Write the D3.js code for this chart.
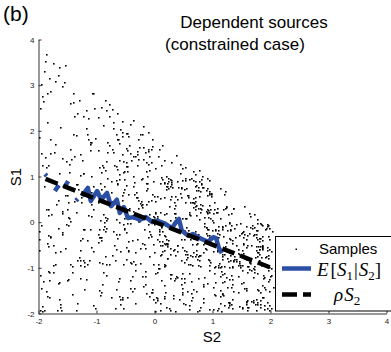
<!DOCTYPE html>
<html>
<head>
<meta charset="utf-8">
<script src="https://cdn.jsdelivr.net/npm/d3@7"></script>
<style>
  body { margin: 0; background: #fff; }
  svg { display: block; font-family: "Liberation Sans", Arial, sans-serif; }
</style>
</head>
<body>
<svg id="chart" width="391" height="352"></svg>
<script>
const tickValues = [-2, -1, 0, 1, 2, 3, 4];
const rho = -0.5;
const rhoLineS2 = [-1.87, 2.6];

// E[S1|S2], null = gap
const condS2 = [-1.88, -1.85, null, -1.71, -1.64, null, -1.55, -1.48, null, -1.345, -1.315, null,
  -1.24, -1.14, -1.09, -0.98, -0.91, -0.81, -0.74, -0.64, -0.59, -0.52, -0.45, -0.35, -0.24, -0.14,
  -0.03, 0.05, 0.17, 0.31, 0.38, 0.43, 0.48, 0.59, 0.67, 0.79, 0.93, 1.02, 1.07, 1.12, 1.17];
const condS1 = [1.04, 1.00, null, 0.67, 0.80, null, 0.74, 0.89, null, 0.46, 0.50, null,
  0.56, 0.74, 0.45, 0.67, 0.48, 0.63, 0.34, 0.48, 0.19, 0.32, 0.08, 0.10, 0.04, 0.10,
  -0.01, 0.02, -0.03, -0.14, -0.01, 0.06, -0.20, -0.31, -0.27, -0.36, -0.44, -0.34, -0.36, -0.58, -0.69];

// samples [S2, S1]
const samples = [
[-1.14,0.15],[-1.41,-1.59],[-1.15,1.92],[-1.59,-0.26],[-1.92,2.65],[-1.26,0.53],[-1.65,-1.35],[-1.53,-0.58],[-1.35,1.89],[-1.58,2.97],
[-1.89,0.79],[-1.97,-1.93],[-1.79,-0.32],[-1.93,1.23],[-1.32,2.38],[-1.23,-0.84],[-1.38,0.46],[-1.84,-1.62],[-1.46,1.26],[-1.62,-0.64],
[-1.26,0.43],[-1.64,-1.33],[-1.43,1.38],[-1.33,-0.83],[-1.38,2.32],[-1.83,0.27],[-1.32,-1.79],[-1.27,-0.95],[-1.79,1.50],[-1.95,3.02],
[-1.50,0.28],[-1.02,-1.88],[-1.28,-0.84],[-1.88,1.41],[-1.84,2.19],[-1.41,-0.97],[-1.19,0.71],[-1.97,-1.16],[-1.71,1.69],[-1.16,-0.93],
[-1.69,0.39],[-1.93,-1.95],[-1.39,1.93],[-1.99,-0.37],[-1.93,2.75],[-1.37,0.51],[-1.75,-1.10],[-1.51,-0.05],[-1.10,1.58],[-1.05,2.82],
[-1.58,0.20],[-1.82,-1.09],[-1.20,-0.97],[-1.09,1.74],[-1.97,2.49],[-1.74,-0.94],[-1.49,0.44],[-1.94,-1.45],[-1.44,1.59],[-1.45,-0.92],
[-1.59,0.23],[-1.92,-1.30],[-1.23,1.07],[-1.30,-0.78],[-1.07,2.81],[-1.78,0.16],[-1.81,-1.64],[-1.16,-0.40],[-1.64,1.06],[-1.40,2.62],
[-1.06,0.28],[-1.62,-1.86],[-1.28,-0.62],[-1.86,1.20],[-1.62,2.08],[-1.20,-0.89],[-1.08,0.99],[-1.89,-1.94],[-1.99,1.86],[-1.98,-0.62],
[-1.86,0.28],[-1.62,-1.80],[-1.28,1.03],[-1.80,-0.34],[-1.03,2.48],[-1.34,0.82],[-1.48,-1.25],[-1.82,-0.53],[-1.25,1.34],[-1.53,3.42],
[-1.34,0.21],[-1.42,-1.11],[-1.21,-0.17],[-1.11,1.70],[-1.17,2.06],[-1.70,-0.67],[-1.06,0.79],[-1.67,-1.94],[-1.79,1.82],[-1.98,-0.21],
[-1.82,0.14],[-1.21,-1.48],[-1.14,1.80],[-1.48,-0.08],[-1.80,2.86],[-1.08,0.65],[-1.86,-1.51],[-1.65,-0.13],[-1.51,1.32],[-1.13,2.28],
[-1.32,0.82],[-1.28,-1.23],[-1.82,-0.30],[-1.23,1.06],[-1.30,2.66],[-1.06,-0.64],[-1.66,0.47],[-1.64,-1.70],[-1.47,1.09],[-1.70,-0.93],
[-1.09,0.38],[-1.93,-1.84],[-1.38,1.44],[-1.84,-0.46],[-1.44,2.60],[-1.46,0.09],[-1.60,-1.93],[-1.09,-0.55],[-1.95,1.50],[-1.55,3.05],
[-1.50,0.58],[-1.05,-1.82],[-1.58,-0.22],[-1.82,1.23],[-1.22,2.31],[-1.23,-0.17],[-1.31,0.72],[-1.17,-1.25],[-1.72,1.53],[-1.25,-0.35],
[-1.53,0.59],[-1.35,-1.94],[-1.59,1.40],[-1.94,-0.08],[-1.40,2.81],[-1.08,0.12],[-1.81,-1.28],[-1.12,-0.84],[-1.28,1.48],[-1.84,2.81],
[-1.48,0.11],[-1.81,-1.11],[-1.11,-0.17],[-1.11,1.74],[-1.17,2.45],[-1.74,-0.50],[-1.45,0.02],[-1.50,-1.28],[-1.02,1.84],[-1.28,-0.41],
[-1.86,3.68],[-1.74,3.47],[-1.90,3.31],[-1.66,3.22],[-1.81,3.14],[-1.63,3.38],[-1.88,3.52],[-1.71,3.09],
[-0.84,0.10],[-0.41,-0.02],[-0.10,1.27],[-0.02,-1.70],[-0.27,0.01],[-0.70,2.19],[-0.01,-0.93],[-0.19,1.38],[-0.93,0.85],[-0.38,-1.52],
[-0.85,-0.21],[-0.52,1.11],[-0.21,0.10],[-0.11,-0.05],[-0.10,1.55],[-0.05,-1.55],[-0.55,0.59],[-0.55,1.96],[-0.59,-0.64],[-0.96,0.44],
[-0.64,0.46],[-0.44,-0.62],[-0.46,1.22],[-0.62,-1.29],[-0.22,0.94],[-0.29,1.48],[-0.94,-0.89],[-0.48,1.95],[-0.89,0.54],[-0.95,-1.49],
[-0.54,-0.93],[-0.49,1.30],[-0.93,0.03],[-0.30,-0.38],[-0.03,1.81],[-0.38,-1.19],[-0.81,0.96],[-0.19,1.64],[-0.96,-0.44],[-0.64,0.42],
[-0.44,0.28],[-0.42,-0.88],[-0.28,1.81],[-0.88,-1.10],[-0.81,0.09],[-0.10,1.97],[-0.09,-0.75],[-0.97,1.56],[-0.75,0.66],[-0.56,-1.65],
[-0.66,-0.59],[-0.65,1.93],[-0.59,0.33],[-0.93,-0.34],[-0.33,1.44],[-0.34,-1.46],[-0.44,0.61],[-0.46,1.12],[-0.61,-0.28],[-0.12,0.84],
[-0.28,0.47],[-0.84,-0.75],[-0.47,1.56],[-0.75,-1.64],[-0.56,0.48],[-0.64,1.82],[-0.48,-0.23],[-0.82,1.33],[-0.23,0.37],[-0.33,-1.78],
[-0.37,-0.86],[-0.78,1.67],[-0.86,0.78],[-0.67,-0.83],[-0.78,2.31],[-0.83,-1.16],[-0.31,0.65],[-0.16,1.52],[-0.65,-0.27],[-0.52,0.71],
[-0.27,0.12],[-0.71,-0.20],[-0.12,1.01],[-0.20,-1.19],[-0.01,0.90],[-0.19,2.09],[-0.90,-0.91],[-0.09,1.14],[-0.91,0.45],[-0.14,-1.56],
[-0.45,-0.64],[-0.56,1.48],[-0.64,0.85],[-0.48,-0.56],[-0.85,2.66],[-0.56,-1.69],[-0.66,0.92],[-0.69,1.23],[-0.92,-0.34],[-0.23,0.46],
[-0.34,0.60],[-0.46,-0.03],[-0.60,1.34],[-0.03,-1.48],[-0.34,0.86],[-0.48,1.61],[-0.86,-0.10],[-0.61,1.04],[-0.10,0.45],[-0.04,-1.54],
[-0.45,-0.43],[-0.54,1.32],[-0.43,0.26],[-0.32,-0.66],[-0.26,1.64],[-0.66,-1.48],[-0.64,0.82],[-0.48,1.21],[-0.82,-0.13],[-0.21,0.33],
[-0.13,0.39],[-0.33,-0.93],[-0.39,1.36],[-0.93,-1.60],[-0.36,0.07],[-0.60,1.72],[-0.07,-0.26],[-0.72,1.60],[-0.26,0.02],[-0.60,-1.24],
[-0.02,-0.49],[-0.24,1.91],[-0.49,0.14],[-0.91,-0.41],[-0.14,1.12],[-0.41,-1.27],[-0.12,0.73],[-0.27,1.37],[-0.73,-0.72],[-0.37,0.24],
[-0.72,0.45],[-0.24,-0.58],[-0.45,1.87],[-0.58,-1.70],[-0.87,0.00],[-0.70,2.06],[0.00,-0.66],[-0.06,1.60],[-0.66,0.06],[-0.60,-1.63],
[-0.06,-0.31],[-0.63,1.15],[-0.31,0.55],[-0.15,-0.58],[-0.55,1.88],[-0.58,-1.81],[-0.88,0.17],[-0.81,1.74],[-0.17,-0.48],[-0.74,0.88],
[-0.48,0.81],[-0.88,-0.15],[-0.81,1.52],[-0.15,-1.20],[-0.52,0.09],[-0.20,1.92],[-0.09,-0.20],[-0.92,1.09],[-0.20,0.96],[-0.09,-1.62],
[-0.96,-0.28],[-0.62,1.82],[-0.28,0.29],[-0.82,-0.92],[-0.29,1.25],[-0.92,-1.54],[-0.25,0.40],[-0.54,1.09],[-0.40,-0.91],[-0.09,0.17],
[-0.91,0.71],[-0.17,-0.15],[-0.71,1.53],[-0.15,-1.36],[-0.53,0.64],[-0.36,1.43],[-0.64,-0.36],[-0.43,1.67],[-0.36,0.78],[-0.67,-1.89],
[-0.78,-0.92],[-0.89,1.25],[-0.92,0.59],[-0.25,-0.90],[-0.59,2.03],[-0.90,-1.36],[-0.03,0.60],[-0.36,1.00],[-0.60,-0.01],[0.00,0.11],
[-0.01,0.13],[-0.11,-0.33],[-0.13,1.30],[-0.33,-1.05],[-0.30,0.53],[-0.05,1.30],[-0.53,-0.05],[-0.30,1.54],[-0.05,0.48],[-0.54,-1.88],
[-0.48,-0.82],[-0.88,1.20],[-0.82,0.04],[-0.20,-0.46],[-0.04,1.66],[-0.46,-1.65],[-0.66,0.52],[-0.65,1.21],[-0.52,-0.13],[-0.21,0.38],
[-0.13,0.84],[-0.38,-0.41],[-0.84,1.14],[-0.41,-1.46],[-0.14,0.69],[-0.46,1.95],[-0.69,-0.51],[-0.95,1.19],[-0.51,0.94],[-0.19,-1.41],
[-0.94,-0.15],[-0.41,1.51],[-0.15,0.11],[-0.51,-0.16],[-0.11,1.60],[-0.16,-1.09],[-0.60,0.94],[-0.09,1.43],[-0.94,-0.33],[-0.43,0.30],
[-0.91,2.52],[-0.83,2.44],[-0.96,2.29],[-0.72,2.47],[-0.64,2.38],[-0.55,2.21],[-0.42,2.14],[-0.37,2.23],[-0.88,2.12],[-0.77,2.58],
[0.33,-0.05],[0.30,0.57],[0.05,-1.72],[0.57,-0.27],[0.72,0.70],[0.27,0.03],[0.70,-0.36],[0.03,-1.65],[0.36,0.57],[0.65,-0.75],
[0.57,0.59],[0.75,-0.95],[0.59,0.59],[0.95,-1.91],[0.59,-0.19],[0.91,0.95],[0.19,-1.53],[0.95,-0.30],[0.53,0.09],[0.30,0.92],
[0.09,-0.21],[0.92,0.18],[0.21,-1.86],[0.18,-0.61],[0.86,0.11],[0.61,0.17],[0.11,-0.73],[0.17,-1.38],[0.73,0.81],[0.38,-0.19],
[0.81,0.93],[0.19,-0.32],[0.93,0.26],[0.32,-1.61],[0.26,-0.11],[0.62,0.15],[0.11,-1.79],[0.17,-0.93],[0.79,0.31],[0.93,0.10],
[0.31,-0.05],[0.10,0.51],[0.05,-1.11],[0.51,-0.18],[0.11,0.85],[0.18,0.54],[0.85,-0.48],[0.54,-1.80],[0.48,0.07],[0.80,-0.74],
[0.07,1.44],[0.74,-0.46],[0.44,0.62],[0.46,-1.23],[0.62,-0.37],[0.23,0.79],[0.37,-1.95],[0.79,-0.96],[0.99,0.62],[0.96,0.27],
[0.62,-0.74],[0.27,0.49],[0.74,-1.95],[0.49,-0.56],[0.95,0.67],[0.56,0.73],[0.67,-0.35],[0.73,-1.51],[0.35,0.18],[0.51,-0.88],
[0.18,0.85],[0.88,-0.57],[0.85,0.75],[0.57,-1.52],[0.75,-0.27],[0.52,0.72],[0.27,-1.24],[0.72,-0.48],[0.24,0.89],[0.48,0.91],
[0.89,-0.12],[0.91,0.22],[0.12,-1.27],[0.22,-0.79],[0.27,0.93],[0.79,0.38],[0.93,-0.81],[0.38,-1.18],[0.81,0.83],[0.18,-0.30],
[0.83,1.01],[0.30,-0.11],[0.01,0.19],[0.11,-1.94],[0.19,-0.49],[0.94,0.91],[0.49,-1.12],[0.91,-0.29],[0.12,0.98],[0.29,0.83],
[0.98,-0.33],[0.83,0.36],[0.33,-1.67],[0.36,-0.73],[0.67,0.33],[0.73,0.36],[0.33,-0.62],[0.36,-1.24],[0.62,0.44],[0.24,-0.40],
[0.44,1.06],[0.40,-0.65],[0.06,0.56],[0.65,-1.66],[0.56,-0.64],[0.66,0.43],[0.64,-1.30],[0.43,-0.08],[0.30,0.86],[0.08,1.60],
[0.86,-0.02],[0.60,0.21],[0.02,-1.13],[0.21,-0.39],[0.13,0.94],[0.39,0.49],[0.94,-0.94],[0.49,-1.46],[0.94,0.63],[0.46,-0.39],
[0.63,0.95],[0.39,-0.52],[0.95,0.22],[0.52,-1.24],[0.22,-0.47],[0.24,0.73],[0.47,-1.37],[0.73,-0.71],[0.37,0.19],[0.71,0.90],
[0.19,-0.07],[0.90,0.70],[0.07,-1.02],[0.70,-0.21],[0.02,1.17],[0.21,0.79],[0.17,-0.98],[0.79,-1.86],[0.98,0.60],[0.86,-0.09],
[0.60,0.94],[0.09,-0.43],[0.94,0.37],[0.43,-1.70],[0.37,-0.02],[0.70,0.27],[0.02,-1.77],[0.27,-0.70],[0.77,0.05],[0.70,0.53],
[0.05,-0.39],[0.53,0.92],[0.39,-1.21],[0.92,-0.17],[0.21,0.71],[0.17,0.17],[0.71,-0.76],[0.17,-1.62],[0.76,0.29],[0.62,-0.93],
[0.29,1.31],[0.93,-0.17],[0.31,0.76],[0.17,-1.67],[0.76,-0.75],[0.67,0.52],[0.75,-1.23],[0.52,-0.38],[0.23,0.84],[0.38,1.46],
[0.84,-0.67],[0.46,0.74],[0.67,-1.48],[0.74,-0.81],[0.48,1.18],[0.81,0.84],[0.18,-0.46],[0.84,-1.67],[0.46,0.76],[0.67,-0.66],
[0.76,0.69],[0.66,-0.94],[0.69,0.40],[0.94,-1.05],[0.40,-0.51],[0.05,0.13],[0.51,-1.32],[0.13,-0.20],[0.32,0.00],[0.20,1.00],
[0.00,-0.05],[0.00,0.56],[0.05,-1.68],[0.56,-0.81],[0.68,1.12],[0.81,0.27],[0.12,-0.71],[0.27,-1.14],[0.71,0.45],[0.14,-0.52],
[0.45,1.26],[0.52,-0.63],[0.26,0.35],[0.63,-1.56],[0.35,-0.60],[0.56,0.08],[0.60,-1.82],[0.08,-0.27],[0.82,0.77],[0.27,0.78],
[0.77,-0.85],[0.78,0.57],[0.85,-1.77],[0.57,-0.71],[0.77,1.13],[0.71,0.34],[0.13,-0.42],[0.34,-1.27],[0.42,0.75],[0.27,-0.57],
[0.75,0.77],[0.57,-0.78],[0.77,0.89],[0.78,-1.93],[0.89,-0.60],[0.96,0.09],[0.60,-1.91],[0.09,-0.17],[0.91,0.73],[0.17,1.36],
[0.73,-0.63],[0.36,0.37],[0.63,-1.71],[0.37,-0.17],[0.71,0.78],[0.17,0.87],[0.78,-0.72],[0.87,-1.21],[0.72,0.14],[0.21,-0.46],
[0.14,1.68],[0.46,-0.84],[0.68,0.44],[0.84,-1.40],[0.44,-0.09],[0.40,0.90],[0.09,-1.01],[0.90,-0.12],[0.01,0.22],[0.12,1.24],
[0.22,-0.49],[0.24,0.95],[0.49,-1.53],[0.95,-0.34],[0.53,0.43],[0.34,0.30],[0.43,-0.01],[0.30,-1.14],[0.01,0.46],[0.14,-0.65],
[0.46,0.54],[0.65,-0.49],[0.54,0.95],[0.49,-1.58],[0.95,-0.85],[0.58,0.53],[0.85,-1.37],[0.53,-0.71],[0.37,0.10],[0.71,1.05],
[0.10,-0.50],[0.05,0.07],[0.50,-1.79],[0.07,-0.92],[0.79,0.22],[0.92,0.27],[0.22,-0.79],[0.27,-1.94],[0.79,0.68],[0.96,-0.89],
[0.68,0.92],[0.89,-0.25],[0.92,0.58],[0.25,-1.89],[0.58,-0.92],[0.89,0.23],[0.92,-1.35],[0.23,-0.54],[0.35,0.42],[0.54,1.20],
[0.42,-0.01],[0.20,0.19],[0.01,-1.95],[0.19,-0.95],[0.99,0.56],[0.95,0.61],[0.56,-0.11],[0.61,-1.12],[0.11,0.21],[0.12,-0.12],
[1.21,-1.29],[1.12,-0.90],[1.29,-0.02],[1.90,-1.21],[1.02,0.19],[1.21,-0.96],[1.19,-1.60],[1.96,-0.08],[1.60,-1.86],[1.08,-0.64],
[1.86,-0.40],[1.64,-1.03],[1.40,-0.34],[1.03,0.44],[1.34,-0.41],[1.44,-1.18],[1.41,-0.81],[1.18,-1.15],[1.81,-0.59],[1.15,-0.98],
[1.59,-1.81],[1.98,-0.13],[1.81,-0.36],[1.13,-1.62],[1.36,0.29],[1.62,-0.97],[1.29,-1.77],[1.97,-0.74],[1.77,-1.47],[1.74,-0.77],
[1.47,-0.71],[1.77,-1.13],[1.71,-0.30],[1.13,0.09],[1.30,-0.99],[1.09,-1.94],[1.99,-0.60],[1.96,-1.05],[1.60,-0.51],[1.05,-0.18],
[1.51,-1.87],[1.18,-0.70],[1.87,-0.07],[1.70,-1.72],[1.07,0.21],[1.72,-0.11],[1.21,-1.13],[1.11,-0.34],[1.13,-1.49],[1.34,-0.99],
[1.49,-0.99],[1.99,-1.93],[1.99,-0.99],[1.99,-1.83],[1.98,-0.37],[1.83,-1.72],[1.37,0.29],[1.72,-0.97],
[1.29,-1.78],[1.97,-0.80],[1.78,-0.04],[1.80,-1.49],[1.04,-0.99],[1.49,-0.95],[1.99,-1.51],[1.95,-0.10],[1.51,-1.05],[1.10,-0.59],
[1.05,-0.97],[1.59,-1.73],[1.97,-0.31],[1.73,0.17],[1.31,-0.73],[1.17,-1.32],[1.73,-0.28],[1.32,-1.81],[1.28,0.16],[1.81,-0.60],
[1.16,-1.09],[1.60,-0.96],[1.09,-0.63],[1.96,-1.31],[1.63,0.18],[1.31,-0.85],[1.18,-1.59],[1.85,-0.95],[1.59,-1.50],[1.95,-0.06],
[1.50,-0.24],[1.02,-1.44],[1.24,-0.45],[1.44,-0.59],[1.45,-0.94],[1.59,-1.45],[1.94,-0.55],[1.45,-1.53],[1.55,0.34],[1.53,-0.46],
[1.34,-1.69],[1.46,-0.90],[1.69,-0.08],[1.90,-1.83],[1.08,0.30],[1.83,-0.04],[1.30,-1.26],[1.02,-0.64],[1.26,-1.42],[1.64,-0.25],
[1.42,-0.52],[1.25,-1.22],[1.52,-0.23],[1.22,0.30],[1.23,-0.08],[1.30,-1.82],[1.08,-0.25],[1.82,-1.53],[1.25,0.33],[1.53,-0.34],
[1.33,-1.44],[1.34,-0.46],[1.44,-0.68],[1.46,-1.85],[1.68,-0.50],[1.85,-0.05],[1.50,-1.35],[1.03,-0.52],[1.35,-1.26],[1.52,-0.61],
[1.26,-0.19],[1.61,-1.93],[1.19,-0.31],[1.93,-0.14],[1.31,-0.18],[1.11,-1.88],[1.18,-0.81],[1.88,-1.17],[1.81,-0.71],[1.17,-0.10],
[1.71,-1.01],[1.10,-0.10],[1.01,0.00],[1.10,-1.00],[1.00,0.03],[1.00,-0.31],[1.03,-1.13],[1.31,-0.37],[1.13,-1.78],[1.37,-0.83],
[1.78,-0.38],[1.83,-1.87],[1.38,-0.75],[1.87,-0.52],[1.75,-0.28],[1.52,-1.88],[1.28,-0.86],[1.88,-1.65],[1.86,-0.58],[1.65,-0.87],
[1.58,-1.75],[1.87,-0.53],[1.75,-0.33],[1.53,-1.32],[1.33,0.20],[1.32,-0.08],[1.20,-1.83],[1.08,-0.38],[1.83,-1.81],[1.38,-0.14],
[1.81,-0.42],[1.14,-1.20],[1.42,-0.06],[1.20,0.61],[1.06,-0.17],[1.61,-1.71],[1.17,-0.17],[1.71,-1.77],[1.17,-0.76],[1.77,-0.66],
[1.76,-1.69],[1.66,-0.91],[1.69,-0.14],[1.91,-1.47],[1.14,0.73],[1.47,-0.30],[1.73,-1.03],[1.30,-0.35],[1.03,-1.59],[1.35,-0.98],
[1.59,-0.82],[1.98,-1.25],[1.82,-0.53],[1.25,0.34],[1.53,-0.49],[1.34,-1.90],[1.49,-0.04],[1.90,-1.42],[1.04,0.28],[1.42,-0.87],
[1.28,-1.75],[1.87,-0.55],[1.75,-0.54],[1.55,-1.46],[1.54,-0.68],[1.46,-0.87],[1.68,-1.73],[1.87,-0.31],[1.73,-1.11],[1.31,-0.15],
[1.11,-0.59],[1.15,-1.95],[1.59,-0.56],[1.95,-0.62],[1.56,-0.28],[1.62,-1.86],[1.28,-0.63],[1.86,-1.38],[1.63,-0.88],[1.38,-0.82],
[1.88,-1.23],[1.82,-0.35],[1.23,-0.53],[1.35,-1.37],[1.53,-0.78],[1.37,-0.87],[1.78,-1.75],[1.87,-0.59],[1.75,-1.93],[1.59,-0.37],
[1.93,-0.75],[1.37,-1.51],[1.75,-0.19],[1.51,-0.95],[1.19,-0.57],[1.95,-1.77],[1.57,-0.78],[1.77,-1.81],[1.78,-0.18],[1.81,-0.85],
[1.18,-1.57],[1.85,-0.77],[1.56,-0.80],[1.74,-1.80],[1.78,0.05],[1.80,-0.53],[1.05,-1.32],[1.53,-0.21],[1.32,-1.17],[1.21,-0.71],
[1.17,-0.12],[1.71,-1.22],[1.12,-0.26],[1.22,0.68],[1.26,-0.80],[1.68,-1.06],[1.80,-0.66],[1.06,-1.61],[1.66,0.13],[1.61,-0.30],
[1.13,-1.00],[1.30,-0.01],[1.00,-0.19],[1.01,-1.92],[1.19,0.27],[1.92,-0.78],[1.27,-1.87],[1.78,-0.76],[1.87,-1.66],[1.76,-0.61],
[1.66,-0.11],[1.61,-1.11],[1.11,-0.19],[1.11,-0.95],[1.19,-0.59],[1.95,-1.90],[1.59,-0.09],[1.90,-1.92],[1.09,0.21],[1.92,-0.16],
[2.02,-1.16],[2.01,-0.64],[2.06,-1.42],[2.04,-0.20],[2.02,-1.01],[2.00,-1.19],[2.01,-1.89]
];

const blue = "#2b4fa4";
const svg = d3.select("#chart");

const x = d3.scaleLinear().domain([-2, 4]).range([38, 386]);
const y = d3.scaleLinear().domain([-2, 4]).range([313, 39]);

// axes, matlab style ticks pointing in
const xAxis = svg.append("g").attr("transform", "translate(0.5,313.5)")
  .call(d3.axisBottom(x).tickValues(tickValues).tickSizeInner(-3).tickSizeOuter(0).tickPadding(5));
const yAxis = svg.append("g").attr("transform", "translate(38.5,0.5)")
  .call(d3.axisLeft(y).tickValues(tickValues).tickSizeInner(-3).tickSizeOuter(0).tickPadding(4));

[xAxis, yAxis].forEach(a => {
  a.selectAll("text").attr("font-size", "8px").attr("fill", "#222")
    .attr("font-family", "Liberation Sans, Arial, sans-serif")
    .text(d => d < 0 ? "-" + Math.abs(d) : d);
  a.selectAll("line, path").attr("stroke", "#333");
});

// samples
svg.append("g").selectAll("rect").data(samples).join("rect")
  .attr("x", d => Math.round(x(d[0])))
  .attr("y", d => Math.round(y(d[1])))
  .attr("width", 1.6)
  .attr("height", 1.6)
  .attr("fill", "#000");

// E[S1|S2]
const condData = condS2.map((s, i) => [s, condS1[i]]);
svg.append("path")
  .datum(condData)
  .attr("fill", "none")
  .attr("stroke", blue)
  .attr("stroke-width", 4.5)
  .attr("stroke-linejoin", "round")
  .attr("d", d3.line().defined(d => d[0] != null).x(d => x(d[0])).y(d => y(d[1])));

// rho * S2
svg.append("path")
  .datum(rhoLineS2.map(s => [s, rho * s]))
  .attr("fill", "none")
  .attr("stroke", "#000")
  .attr("stroke-width", 4.5)
  .attr("stroke-dasharray", "13,6")
  .attr("d", d3.line().x(d => x(d[0])).y(d => y(d[1])));

// legend
const leg = svg.append("g");
leg.append("rect").attr("x", 275.5).attr("y", 236.5).attr("width", 140).attr("height", 74.5)
  .attr("fill", "#fff").attr("stroke", "#000").attr("stroke-width", 1);
leg.append("rect").attr("x", 295.5).attr("y", 248.5).attr("width", 1.5).attr("height", 1.5).attr("fill", "#000");
leg.append("text").attr("x", 319).attr("y", 254).attr("font-size", "15px").text("Samples");
leg.append("line").attr("x1", 282).attr("x2", 311).attr("y1", 268.5).attr("y2", 268.5)
  .attr("stroke", blue).attr("stroke-width", 4.5);
leg.append("line").attr("x1", 282).attr("x2", 311).attr("y1", 294.5).attr("y2", 294.5)
  .attr("stroke", "#000").attr("stroke-width", 4.5).attr("stroke-dasharray", "15,6");

const math1 = leg.append("text").attr("x", 317).attr("y", 276)
  .attr("font-family", "Liberation Serif, Times New Roman, serif").attr("font-size", "19px");
math1.append("tspan").attr("font-style", "italic").text("E");
math1.append("tspan").attr("dx", 2).text("[");
math1.append("tspan").attr("font-style", "italic").text("S");
math1.append("tspan").attr("font-size", "13px").attr("dy", 4).text("1");
math1.append("tspan").attr("dy", -4).attr("dx", 1).text("|");
math1.append("tspan").attr("font-style", "italic").attr("dx", 1).text("S");
math1.append("tspan").attr("font-size", "13px").attr("dy", 4).text("2");
math1.append("tspan").attr("dy", -4).text("]");

const math2 = leg.append("text").attr("x", 334).attr("y", 301)
  .attr("font-family", "Liberation Serif, Times New Roman, serif").attr("font-size", "19px");
math2.append("tspan").attr("font-style", "italic").text("ρ");
math2.append("tspan").attr("font-style", "italic").attr("dx", 1).text("S");
math2.append("tspan").attr("font-size", "13px").attr("dy", 4).text("2");

// labels and title
svg.append("text").attr("x", 212).attr("y", 342).attr("text-anchor", "middle")
  .attr("font-size", "15px").text("S2");
svg.append("text").attr("transform", "translate(21,177) rotate(-90)").attr("text-anchor", "middle")
  .attr("font-size", "15px").text("S1");
svg.append("text").attr("x", 254).attr("y", 28).attr("text-anchor", "middle")
  .attr("font-size", "17px").text("Dependent sources");
svg.append("text").attr("x", 235).attr("y", 50).attr("text-anchor", "middle")
  .attr("font-size", "17px").text("(constrained case)");
svg.append("text").attr("x", 3).attr("y", 21).attr("font-size", "21px").text("(b)");
</script>
</body>
</html>
